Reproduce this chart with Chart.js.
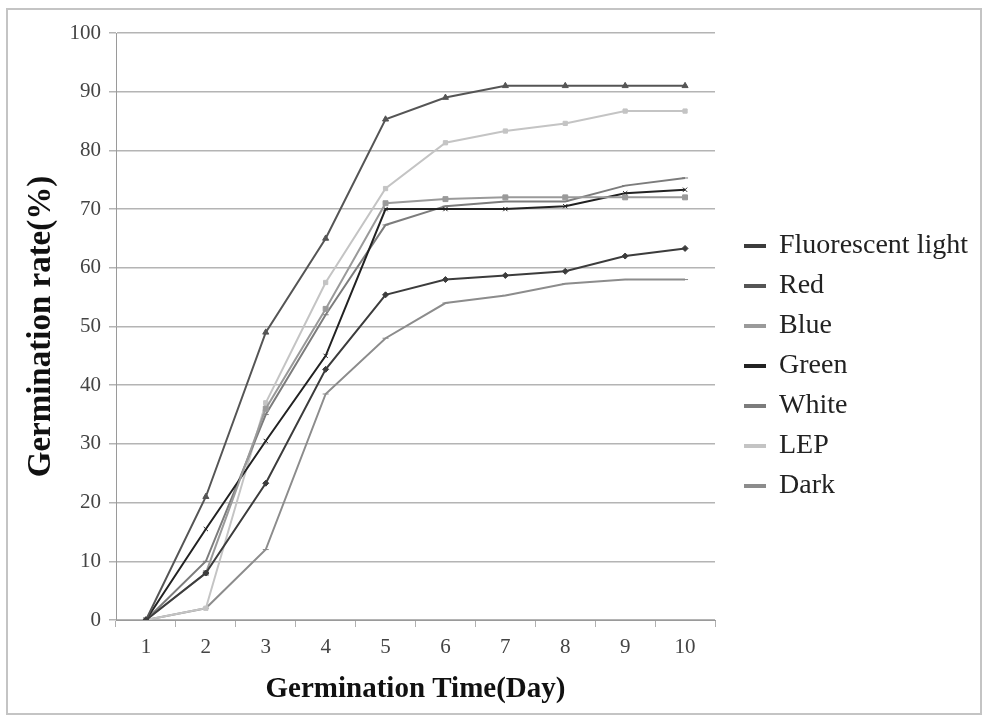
<!DOCTYPE html>
<html>
<head>
<meta charset="utf-8">
<script src="https://cdn.jsdelivr.net/npm/chart.js@4.4.1/dist/chart.umd.min.js"></script>
<style>
  html, body { margin: 0; padding: 0; background: #fff; }
  #wrap { position: absolute; left: 0; top: 0; width: 988px; height: 722px; }
  #frame {
    position: absolute; left: 6px; top: 8px;
    width: 972px; height: 703px;
    border: 2px solid #c4c4c4;
    pointer-events: none;
  }
</style>
</head>
<body>
<div id="wrap"><canvas id="chart"></canvas></div>
<div id="frame"></div>
<script>
'use strict';

// Germination rate (%) by day for each light treatment
const days = ['1', '2', '3', '4', '5', '6', '7', '8', '9', '10'];

const fluorescent = [0, 8, 23.3, 42.7, 55.4, 58, 58.7, 59.4, 62, 63.3];
const red         = [0, 21, 49, 65, 85.3, 89, 91, 91, 91, 91];
const blue        = [0, 8, 36, 53, 71, 71.7, 72, 72, 72, 72];
const green       = [0, 15.5, 30.5, 45, 70, 70, 70, 70.5, 72.7, 73.3];
const white       = [0, 10, 35, 52, 67.3, 70.5, 71.3, 71.3, 74, 75.3];
const lep         = [0, 2, 37, 57.5, 73.5, 81.3, 83.3, 84.6, 86.7, 86.7];
const dark        = [0, 2, 12, 38.5, 48, 54, 55.3, 57.3, 58, 58];

const yTicks = [0, 10, 20, 30, 40, 50, 60, 70, 80, 90, 100];

function series(label, data, color, pointStyle, radius) {
  return {
    label,
    data,
    borderColor: color,
    backgroundColor: color,
    borderWidth: 2,
    pointStyle,
    pointRadius: radius,
    pointBorderWidth: 1,
    tension: 0,
  };
}

const datasets = [
  series('Fluorescent light', fluorescent, '#3c3c3c', 'rectRot', 3),
  series('Red', red, '#555555', 'triangle', 3.5),
  series('Blue', blue, '#9a9a9a', 'rect', 3.5),
  series('Green', green, '#222222', 'crossRot', 3),
  series('White', white, '#7c7c7c', 'line', 3),
  series('LEP', lep, '#c4c4c4', 'rect', 3),
  series('Dark', dark, '#8c8c8c', 'line', 3),
];

const serif = 'Liberation Serif, "Times New Roman", serif';

// keep the legend block off the plot edge, like the original figure
const legendPlace = {
  id: 'legendPlace',
  beforeLayout(chart) {
    const lg = chart.legend;
    if (lg && !lg._patched) {
      const fit = lg.fit;
      lg.fit = function () { fit.call(this); this.width = 273; };
      lg._patched = true;
    }
  },
  afterLayout(chart) {
    const lg = chart.legend;
    const h = lg.bottom - lg.top;
    lg.left = 733;
    lg.top = 366 - h / 2;
    lg.bottom = 366 + h / 2;
  },
};

new Chart(document.getElementById('chart'), {
  type: 'line',
  data: { labels: days, datasets },
  plugins: [legendPlace],
  options: {
    responsive: true,
    maintainAspectRatio: false,
    animation: false,
    layout: { padding: { left: 20, right: 0, top: 33, bottom: 15 } },
    plugins: {
      legend: {
        position: 'right',
        align: 'center',
        labels: {
          boxWidth: 20,
          boxHeight: 2,
          padding: 12,
          color: '#222',
          font: { family: serif, size: 28 },
        },
      },
      tooltip: { enabled: false },
    },
    scales: {
      x: {
        offset: true,
        grid: {
          offset: true,
          drawOnChartArea: false,
          color: '#b0b0b0',
          tickLength: 7,
        },
        border: { color: '#9a9a9a', width: 1 },
        ticks: { color: '#444', font: { family: serif, size: 21 }, padding: 8 },
        title: {
          display: true,
          text: 'Germination Time(Day)',
          color: '#111',
          font: { family: serif, size: 29, weight: 'bold' },
          padding: { top: 4, bottom: 0 },
        },
      },
      y: {
        min: 0,
        max: 100,
        afterBuildTicks: (axis) => { axis.ticks = yTicks.map(v => ({ value: v })); },
        afterFit: (axis) => { axis.width = 96; },
        grid: { color: '#b4b4b4', lineWidth: 1.5, tickLength: 7 },
        border: { color: '#9a9a9a', width: 1 },
        ticks: { color: '#444', font: { family: serif, size: 21 }, padding: 8 },
        title: {
          display: true,
          text: 'Germination rate(%)',
          color: '#111',
          font: { family: serif, size: 33, weight: 'bold' },
          padding: { top: 2, bottom: 4 },
        },
      },
    },
  },
});
</script>
</body>
</html>
